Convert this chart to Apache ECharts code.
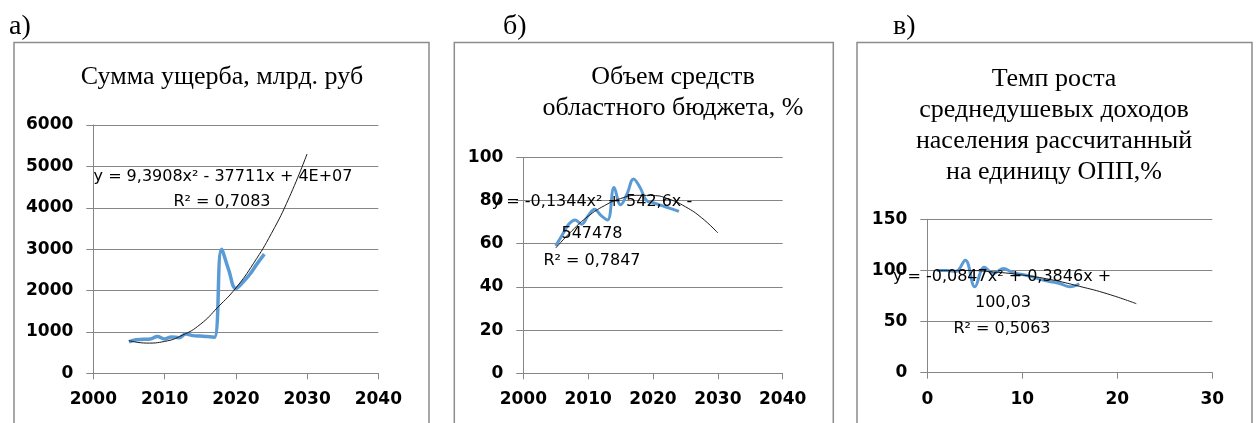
<!DOCTYPE html>
<html>
<head>
<meta charset="utf-8">
<script src="https://cdn.jsdelivr.net/npm/echarts@6/dist/echarts.min.js"></script>
<style>
  html, body { margin: 0; padding: 0; background: #fff; }
  #chart { width: 1257px; height: 423px; }
</style>
</head>
<body>
<div id="chart"></div>
<script>
// а) сумма ущерба
const yearsA = [2005, 2006, 2007, 2008, 2009, 2010, 2011, 2012, 2013, 2014, 2015, 2016, 2017, 2018, 2019, 2020, 2021, 2022, 2023, 2024];
const damageA = [760, 810, 820, 830, 890, 830, 880, 860, 950, 910, 900, 890, 870, 3000, 2500, 2050, 2200, 2400, 2650, 2880];
const trendXA = [2005, 2007.5, 2010, 2012.5, 2015, 2017.5, 2020, 2022.5, 2025, 2027.5, 2030];
const trendA = [790, 730, 770, 920, 1180, 1600, 2060, 2660, 3380, 4250, 5300];

// б) объем средств областного бюджета
const yearsB = [2005, 2006, 2007, 2008, 2009, 2010, 2011, 2012, 2013, 2014, 2015, 2016, 2017, 2018, 2019, 2020, 2021, 2022, 2023, 2024];
const budgetB = [59, 64, 69, 71, 69, 73, 76, 73, 71, 86, 78, 83, 90, 86, 80, 79, 78, 77, 76, 75];
const trendXB = [2005, 2007.5, 2010, 2012.5, 2015, 2017.5, 2020, 2022.5, 2025, 2027.5, 2030];
const trendB = [58, 66, 72.7, 77.6, 80.9, 82.4, 82.3, 80.6, 77.1, 72, 65];

// в) темп роста среднедушевых доходов
const stepsC = [1, 2, 3, 4, 5, 6, 7, 8, 9, 10, 11, 12, 13, 14, 15, 16];
const incomeC = [100, 100, 99, 110, 84, 103, 97, 102, 98, 96, 94, 91, 89, 87, 84, 87];
const trendXC = [1, 4, 7, 10, 13, 16, 19, 22];
const trendC = [100, 100, 98.5, 95.5, 91, 84.5, 77, 67.5];

// оси: [min, max, шаг]
const xTicksA = [2000, 2040, 10], yTicksA = [0, 6000, 1000];
const xTicksB = [2000, 2040, 10], yTicksB = [0, 100, 20];
const xTicksC = [0, 30, 10], yTicksC = [0, 150, 50];

const gray = '#868686';
const blue = '#5b9bd5';
const labelFont = {
  color: '#000', fontFamily: 'DejaVu Sans', fontWeight: 'bold', fontSize: 17,
  formatter: v => String(v)
};

function pairs(xs, ys) {
  return xs.map((x, i) => [x, ys[i]]);
}

function xAxis(idx, t) {
  return {
    type: 'value', gridIndex: idx, min: t[0], max: t[1], interval: t[2],
    axisLine: { show: true, onZero: false, lineStyle: { color: gray, width: 1 } },
    axisTick: { show: true, length: 6, lineStyle: { color: gray } },
    axisLabel: Object.assign({ margin: 18 }, labelFont),
    splitLine: { show: false }
  };
}

function yAxis(idx, t) {
  return {
    type: 'value', gridIndex: idx, min: t[0], max: t[1], interval: t[2],
    axisLine: { show: true, lineStyle: { color: gray, width: 1 } },
    axisTick: { show: true, length: 7, lineStyle: { color: gray } },
    axisLabel: Object.assign({ margin: 20 }, labelFont),
    splitLine: { show: true, lineStyle: { color: gray, width: 1 } }
  };
}

function txt(x, y, text, font, align) {
  return {
    type: 'text', x: x, y: y, z: 100,
    style: {
      text: text, font: font, fill: '#000',
      align: align || 'center', verticalAlign: 'middle',
      textAlign: align || 'center', textVerticalAlign: 'middle'
    }
  };
}

function frame(x, w) {
  return {
    type: 'rect', z: 0,
    shape: { x: x, y: 42.5, width: w, height: 420 },
    style: { fill: 'none', stroke: '#8c8c8c', lineWidth: 1.5 }
  };
}

const serif = '26px "Liberation Serif"';
const letter = '28px "Liberation Serif"';
const eq = '16px "DejaVu Sans"';

const chart = echarts.init(document.getElementById('chart'));
chart.setOption({
  animation: false,
  backgroundColor: '#fff',
  grid: [
    { left: 93.3, top: 125, width: 285, height: 248.3 },
    { left: 523.3, top: 157.3, width: 259.4, height: 216 },
    { left: 927.3, top: 219.3, width: 285, height: 153.4 }
  ],
  xAxis: [xAxis(0, xTicksA), xAxis(1, xTicksB), xAxis(2, xTicksC)],
  yAxis: [yAxis(0, yTicksA), yAxis(1, yTicksB), yAxis(2, yTicksC)],
  series: [
    {
      type: 'line', xAxisIndex: 0, yAxisIndex: 0, data: pairs(yearsA, damageA),
      smooth: 0.4, showSymbol: false, lineStyle: { color: blue, width: 3.5 }
    },
    {
      type: 'line', xAxisIndex: 0, yAxisIndex: 0, data: pairs(trendXA, trendA),
      smooth: true, showSymbol: false, lineStyle: { color: '#1a1a1a', width: 1 }
    },
    {
      type: 'line', xAxisIndex: 1, yAxisIndex: 1, data: pairs(yearsB, budgetB),
      smooth: 0.4, showSymbol: false, lineStyle: { color: blue, width: 3 }
    },
    {
      type: 'line', xAxisIndex: 1, yAxisIndex: 1, data: pairs(trendXB, trendB),
      smooth: true, showSymbol: false, lineStyle: { color: '#1a1a1a', width: 1 }
    },
    {
      type: 'line', xAxisIndex: 2, yAxisIndex: 2, data: pairs(stepsC, incomeC),
      smooth: 0.4, showSymbol: false, lineStyle: { color: blue, width: 3 }
    },
    {
      type: 'line', xAxisIndex: 2, yAxisIndex: 2, data: pairs(trendXC, trendC),
      smooth: true, showSymbol: false, lineStyle: { color: '#1a1a1a', width: 1 }
    }
  ],
  graphic: [
    frame(14, 415), frame(454.3, 379), frame(857, 395),
    txt(9, 27, 'а)', letter, 'left'),
    txt(503, 27, 'б)', letter, 'left'),
    txt(893, 27, 'в)', letter, 'left'),
    txt(222, 77, 'Сумма ущерба, млрд. руб', serif),
    txt(673, 77, 'Объем средств', serif),
    txt(673, 108, 'областного бюджета, %', serif),
    txt(1054, 79, 'Темп роста', serif),
    txt(1054, 110, 'среднедушевых доходов', serif),
    txt(1054, 141, 'населения рассчитанный', serif),
    txt(1054, 172, 'на единицу ОПП,%', serif),
    txt(223, 177, 'y = 9,3908x² - 37711x + 4E+07', eq),
    txt(222, 202, 'R² = 0,7083', eq),
    txt(592, 202, 'y = -0,1344x² + 542,6x -', eq),
    txt(592, 234, '547478', eq),
    txt(592, 261, 'R² = 0,7847', eq),
    txt(1002, 277, 'y = -0,0847x² + 0,3846x +', eq),
    txt(1003, 303, '100,03', eq),
    txt(1002, 329, 'R² = 0,5063', eq)
  ]
});
</script>
</body>
</html>
